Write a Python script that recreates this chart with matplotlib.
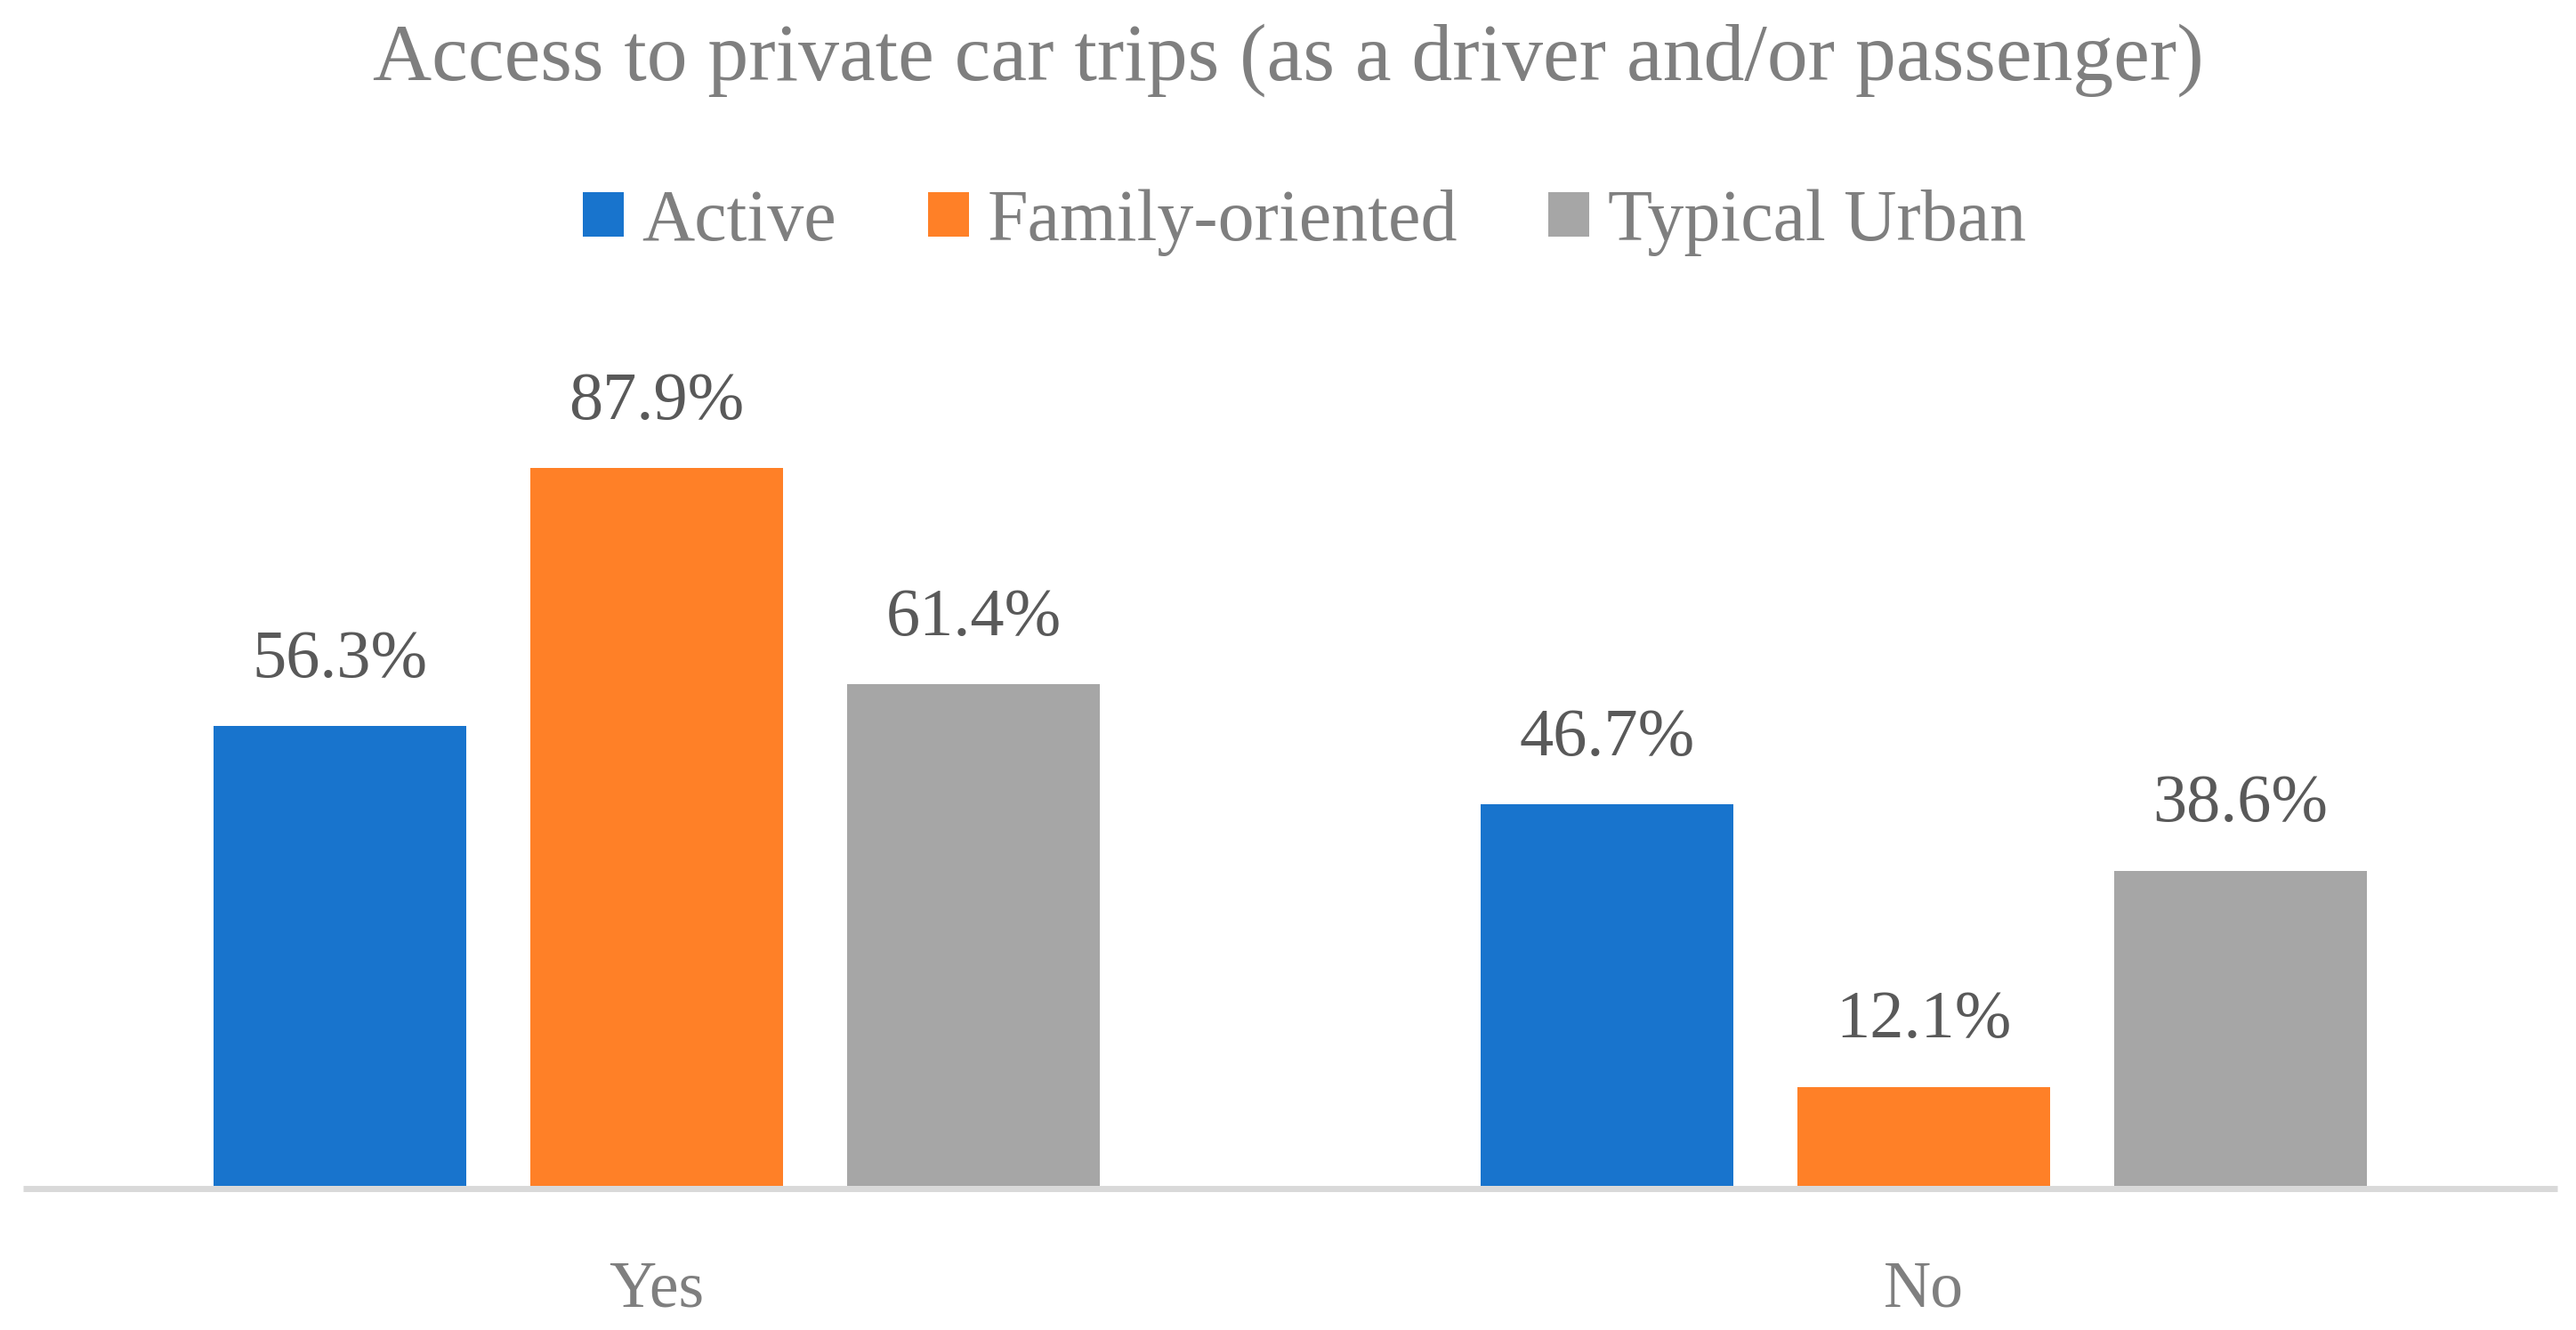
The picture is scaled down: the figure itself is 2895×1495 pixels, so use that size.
import matplotlib
matplotlib.use("Agg")
import matplotlib.pyplot as plt
from matplotlib.patches import Patch
import numpy as np

categories = ["Yes", "No"]
series_names = ["Active", "Family-oriented", "Typical Urban"]
active = [56.3, 46.7]
family = [87.9, 12.1]
typical = [61.4, 38.6]
values = [active, family, typical]
colors = ["#1874CD", "#FF8027", "#A6A6A6"]
title = "Access to private car trips (as a driver and/or passenger)"

FONT = "Liberation Serif"
plt.rcParams["font.family"] = [FONT, "DejaVu Serif"]

W, H = 2895, 1495
fig = plt.figure(figsize=(W / 100, H / 100), dpi=100)
ax = fig.add_axes([26 / W, (H - 1333) / H, 2848 / W, 918 / H])

for s in ["left", "right", "top"]:
    ax.spines[s].set_visible(False)
ax.spines["bottom"].set_position(("outward", 2.5))
ax.spines["bottom"].set_color("#D9D9D9")
ax.spines["bottom"].set_linewidth(5)
ax.spines["bottom"].set_capstyle("butt")

x = np.arange(len(categories))
offsets = [-0.25, 0.0, 0.25]
width = 0.2
for vals, off, c, name in zip(values, offsets, colors, series_names):
    bars = ax.bar(x + off, vals, width=width, color=c, label=name, zorder=2)
    for b, v in zip(bars, vals):
        ax.annotate(f"{v:.1f}%", (b.get_x() + b.get_width() / 2, v),
                    xytext=(0, 40), textcoords="offset points",
                    ha="center", va="baseline", fontsize=55, color="#595959")

ax.set_xlim(-0.5, 1.5)
ax.set_ylim(0, 100)
ax.set_xticks(x)
ax.set_xticklabels(categories, fontsize=53, color="#7F7F7F")
ax.tick_params(axis="x", length=0, pad=58)
ax.set_yticks([])

fig.text(0.5, 1 - 68 / H, title, ha="center", va="center", fontsize=66, color="#7F7F7F")

handles = [Patch(facecolor=c, edgecolor="none", label=n) for c, n in zip(colors, series_names)]
fig.legend(handles=handles, loc="center", bbox_to_anchor=(0.5064, 1 - 250 / H), ncol=3,
           frameon=False, fontsize=59, labelcolor="#7F7F7F",
           handlelength=0.56, handleheight=0.56, handletextpad=0.25,
           columnspacing=1.25)

fig.savefig("out.png", dpi=100)
